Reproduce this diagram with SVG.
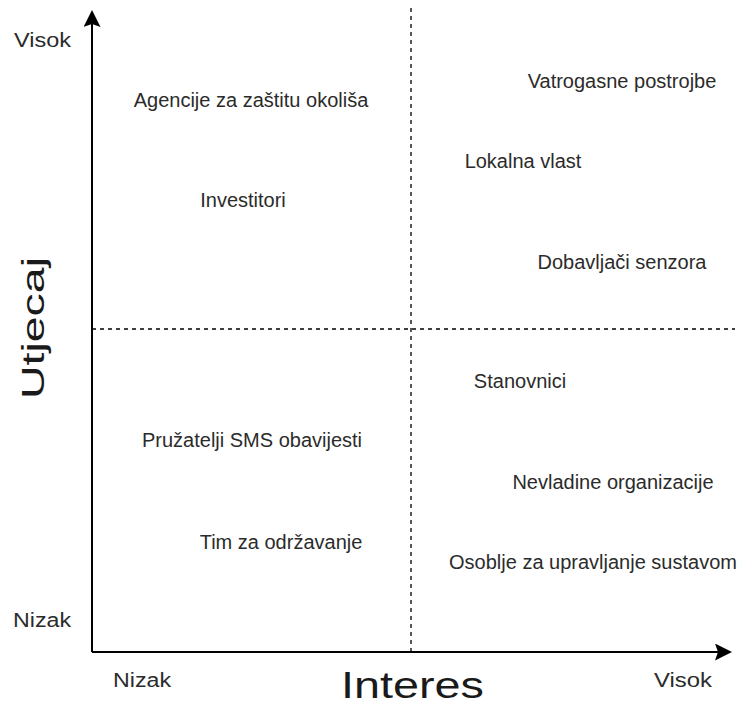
<svg xmlns="http://www.w3.org/2000/svg" width="740" height="709" viewBox="0 0 740 709">
  <style>
    .lbl { font-family: "Liberation Sans", Arial, sans-serif; font-size: 20px; fill: #2b2b2b; }
    .axis { stroke: #000; stroke-width: 2; fill: none; }
    .dash { stroke: #000; stroke-width: 1.3; stroke-dasharray: 4 4; fill: none; }
    .big { font-family: "Liberation Sans", Arial, sans-serif; fill: #1a1a1a; }
  </style>
  <defs>
    <marker id="arrow" viewBox="0 0 17 17" refX="3" refY="8.5" markerWidth="17" markerHeight="17" markerUnits="userSpaceOnUse" orient="auto">
      <path d="M0,0 L17,8.5 L0,17 L3,8.5 Z" fill="#000"/>
    </marker>
  </defs>
  <rect width="740" height="709" fill="#fff"/>

  <g id="connectors">
    <path class="dash" d="M411,8 L411,652"/>
    <path class="dash" d="M92,329 L735,329"/>
    <path class="axis" d="M92,652 L92,24" marker-end="url(#arrow)"/>
    <path class="axis" d="M92,652 L718,652" marker-end="url(#arrow)"/>
  </g>

  <g id="axis-labels">
    <g id="y-high"><text class="lbl" x="14" y="47" textLength="57" lengthAdjust="spacingAndGlyphs">Visok</text></g>
    <g id="y-low"><text class="lbl" x="13" y="627" textLength="58" lengthAdjust="spacingAndGlyphs">Nizak</text></g>
    <g id="x-low"><text class="lbl" x="113" y="687" textLength="58" lengthAdjust="spacingAndGlyphs">Nizak</text></g>
    <g id="x-high"><text class="lbl" x="654" y="687" textLength="58" lengthAdjust="spacingAndGlyphs">Visok</text></g>
    <g id="x-title"><text class="big" x="341" y="698" font-size="36" textLength="143" lengthAdjust="spacingAndGlyphs">Interes</text></g>
    <g id="y-title"><text class="big" transform="translate(44,399) rotate(-90)" x="0" y="0" font-size="31" textLength="142" lengthAdjust="spacingAndGlyphs">Utjecaj</text></g>
  </g>

  <g id="n-agencije"><text class="lbl" x="251" y="107" text-anchor="middle">Agencije za zaštitu okoliša</text></g>
  <g id="n-investitori"><text class="lbl" x="243" y="207" text-anchor="middle">Investitori</text></g>
  <g id="n-sms"><text class="lbl" x="252" y="447" text-anchor="middle">Pružatelji SMS obavijesti</text></g>
  <g id="n-tim"><text class="lbl" x="281" y="549" text-anchor="middle">Tim za održavanje</text></g>
  <g id="n-vatrogasne"><text class="lbl" x="622" y="88" text-anchor="middle">Vatrogasne postrojbe</text></g>
  <g id="n-lokalna"><text class="lbl" x="523" y="168" text-anchor="middle">Lokalna vlast</text></g>
  <g id="n-dobavljaci"><text class="lbl" x="622" y="269" text-anchor="middle">Dobavljači senzora</text></g>
  <g id="n-stanovnici"><text class="lbl" x="520" y="388" text-anchor="middle">Stanovnici</text></g>
  <g id="n-nevladine"><text class="lbl" x="613" y="489" text-anchor="middle">Nevladine organizacije</text></g>
  <g id="n-osoblje"><text class="lbl" x="593" y="569" text-anchor="middle">Osoblje za upravljanje sustavom</text></g>
</svg>
